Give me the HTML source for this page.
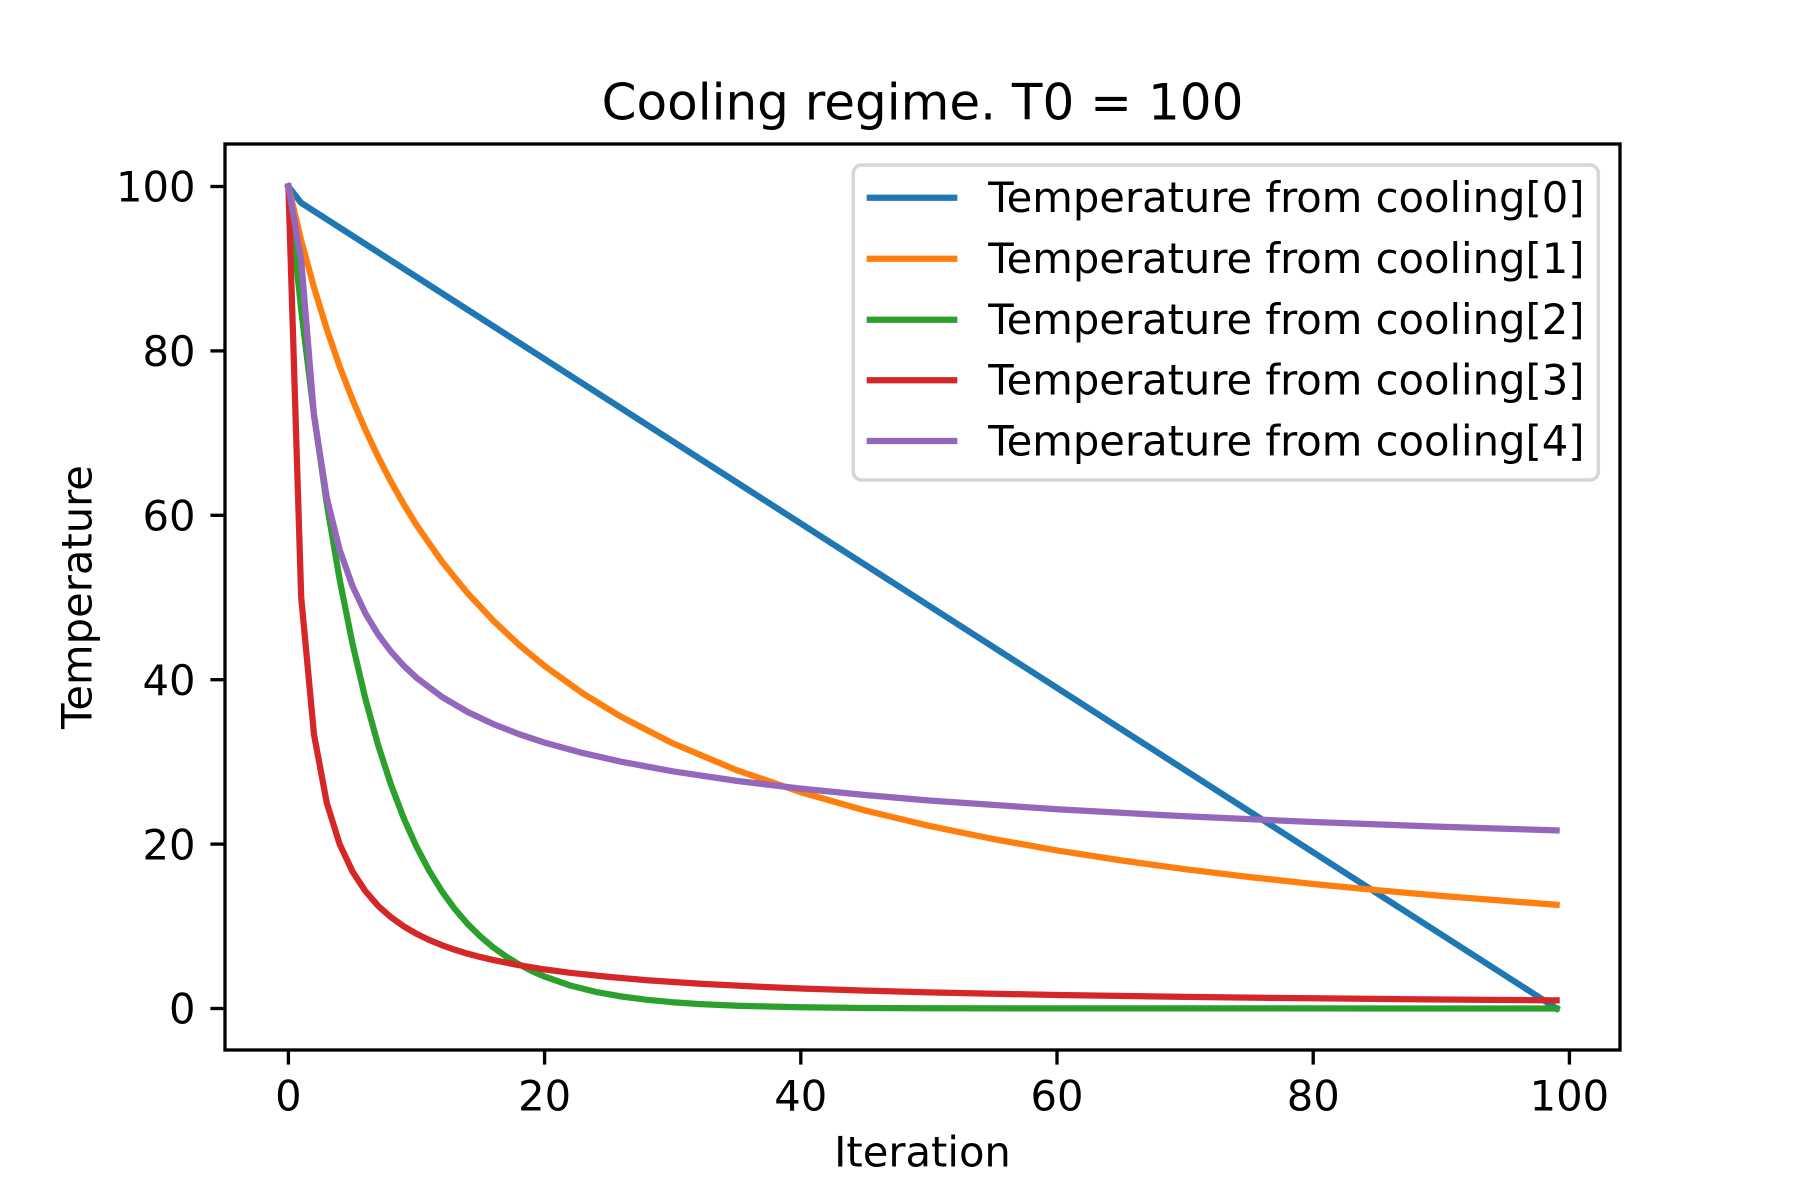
<!DOCTYPE html>
<html>
<head>
<meta charset="utf-8">
<style>
  html, body { margin: 0; padding: 0; background: #ffffff; }
  svg { display: block; }
  text { font-family: "DejaVu Sans", "Liberation Sans", sans-serif; fill: #000000; }
</style>
</head>
<body>
<svg width="1800" height="1200" viewBox="0 0 1800 1200" xmlns="http://www.w3.org/2000/svg">
  <rect x="0" y="0" width="1800" height="1200" fill="#ffffff"/>

  <!-- Title -->
  <text x="922.5" y="119.3" font-size="50" text-anchor="middle">Cooling regime. T0 = 100</text>

  <defs>
    <clipPath id="axclip"><rect x="225" y="144" width="1395" height="906"/></clipPath>
  </defs>

  <!-- Series -->
  <g clip-path="url(#axclip)" fill="none" stroke-width="6.25" stroke-linejoin="round" stroke-linecap="square">
    <polyline stroke="#1f77b4" points="288.4,186.5 301.2,202.9 1556.6,1008.5"/>
    <polyline stroke="#ff7f0e" points="288.4,186.5 301.2,240.3 314.0,287.4 326.8,329.2 339.6,366.3 352.5,399.6 365.3,429.6 378.1,456.8 390.9,481.6 403.7,504.2 416.5,525.0 442.1,561.8 467.7,593.3 493.4,620.8 519.0,644.8 544.6,666.0 583.0,693.6 621.5,717.0 672.7,743.3 736.8,770.2 800.8,792.2 864.9,810.4 928.9,825.8 993.0,839.0 1057.0,850.4 1121.1,860.4 1185.1,869.2 1249.2,877.0 1313.2,884.0 1377.3,890.2 1441.3,895.9 1505.4,900.9 1556.6,904.8"/>
    <polyline stroke="#2ca02c" points="288.4,186.5 301.2,309.8 314.0,414.6 326.8,503.7 339.6,579.4 352.5,643.8 365.3,698.5 378.1,745.0 390.9,784.5 403.7,818.1 416.5,846.7 429.3,870.9 442.1,891.6 454.9,909.1 467.7,924.0 480.6,936.7 493.4,947.5 506.2,956.6 519.0,964.4 531.8,971.0 544.6,976.6 570.2,985.5 595.8,991.9 621.5,996.5 647.1,999.8 672.7,1002.2 698.3,1004.0 736.8,1005.7 800.8,1007.3 864.9,1008.0 928.9,1008.3 1556.6,1008.5"/>
    <polyline stroke="#d62728" points="288.4,186.5 301.2,597.5 314.0,734.5 326.8,803.0 339.6,844.1 352.5,871.5 365.3,891.1 378.1,905.8 390.9,917.2 403.7,926.3 416.5,933.8 429.3,940.0 442.1,945.3 454.9,949.8 467.7,953.7 480.6,957.1 493.4,960.1 519.0,965.2 544.6,969.4 570.2,972.8 608.7,976.9 647.1,980.2 698.3,983.6 749.6,986.3 800.8,988.5 864.9,990.6 928.9,992.4 1057.0,995.0 1185.1,996.9 1313.2,998.3 1441.3,999.5 1556.6,1000.3"/>
    <polyline stroke="#9467bd" points="288.4,186.5 301.2,260.3 314.0,415.6 326.8,497.8 339.6,549.7 352.5,586.1 365.3,613.2 378.1,634.4 390.9,651.5 403.7,665.7 416.5,677.7 442.1,697.0 467.7,712.0 493.4,724.1 519.0,734.1 544.6,742.6 583.0,753.1 621.5,761.8 672.7,771.3 736.8,780.9 800.8,788.6 864.9,795.0 928.9,800.5 1057.0,809.3 1185.1,816.3 1313.2,822.0 1441.3,826.7 1556.6,830.4"/>
  </g>

  <!-- Axes spines -->
  <rect x="225" y="144" width="1395" height="906" fill="none" stroke="#000000" stroke-width="3.33" stroke-linejoin="miter"/>

  <!-- X ticks -->
  <g stroke="#000000" stroke-width="3.33">
    <line x1="288.4" y1="1050" x2="288.4" y2="1064.6"/>
    <line x1="544.6" y1="1050" x2="544.6" y2="1064.6"/>
    <line x1="800.8" y1="1050" x2="800.8" y2="1064.6"/>
    <line x1="1057.0" y1="1050" x2="1057.0" y2="1064.6"/>
    <line x1="1313.2" y1="1050" x2="1313.2" y2="1064.6"/>
    <line x1="1569.4" y1="1050" x2="1569.4" y2="1064.6"/>
  </g>
  <g font-size="41.67" text-anchor="middle">
    <text x="288.4" y="1110.5">0</text>
    <text x="544.6" y="1110.5">20</text>
    <text x="800.8" y="1110.5">40</text>
    <text x="1057.0" y="1110.5">60</text>
    <text x="1313.2" y="1110.5">80</text>
    <text x="1569.4" y="1110.5">100</text>
  </g>

  <!-- Y ticks -->
  <g stroke="#000000" stroke-width="3.33">
    <line x1="210.4" y1="1008.5" x2="225" y2="1008.5"/>
    <line x1="210.4" y1="844.1" x2="225" y2="844.1"/>
    <line x1="210.4" y1="679.7" x2="225" y2="679.7"/>
    <line x1="210.4" y1="515.3" x2="225" y2="515.3"/>
    <line x1="210.4" y1="350.9" x2="225" y2="350.9"/>
    <line x1="210.4" y1="186.5" x2="225" y2="186.5"/>
  </g>
  <g font-size="41.67" text-anchor="end">
    <text x="195.5" y="1023.7">0</text>
    <text x="195.5" y="859.3">20</text>
    <text x="195.5" y="694.9">40</text>
    <text x="195.5" y="530.5">60</text>
    <text x="195.5" y="366.1">80</text>
    <text x="195.5" y="201.7">100</text>
  </g>

  <!-- Axis labels -->
  <text x="922.5" y="1166.7" font-size="41.67" text-anchor="middle">Iteration</text>
  <text transform="translate(91.7,597) rotate(-90)" font-size="41.67" text-anchor="middle">Temperature</text>

  <!-- Legend -->
  <rect x="853.3" y="165" width="745" height="315" rx="8.3" ry="8.3" fill="#ffffff" fill-opacity="0.8" stroke="#d6d6d6" stroke-width="3.5"/>
  <g stroke-width="6.25" stroke-linecap="square">
    <line x1="869.8" y1="197.7" x2="954.2" y2="197.7" stroke="#1f77b4"/>
    <line x1="869.8" y1="258.7" x2="954.2" y2="258.7" stroke="#ff7f0e"/>
    <line x1="869.8" y1="319.7" x2="954.2" y2="319.7" stroke="#2ca02c"/>
    <line x1="869.8" y1="380.2" x2="954.2" y2="380.2" stroke="#d62728"/>
    <line x1="869.8" y1="441.0" x2="954.2" y2="441.0" stroke="#9467bd"/>
  </g>
  <g font-size="41.67">
    <text x="988.3" y="212.0">Temperature from cooling[0]</text>
    <text x="988.3" y="273.0">Temperature from cooling[1]</text>
    <text x="988.3" y="334.0">Temperature from cooling[2]</text>
    <text x="988.3" y="394.5">Temperature from cooling[3]</text>
    <text x="988.3" y="455.3">Temperature from cooling[4]</text>
  </g>
</svg>
</body>
</html>
